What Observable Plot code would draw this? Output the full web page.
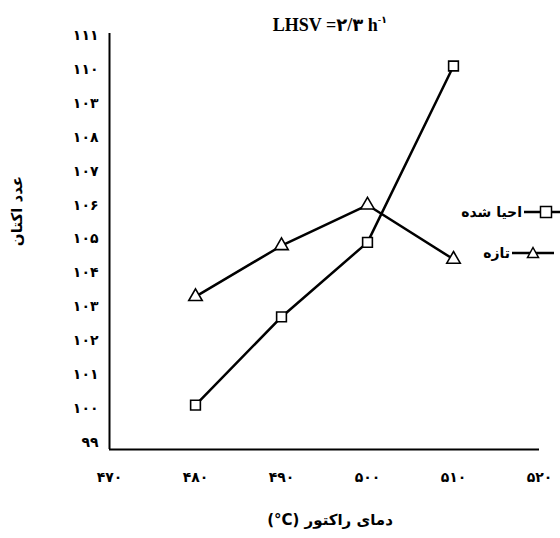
<!DOCTYPE html>
<html><head><meta charset="utf-8">
<script src="https://cdn.jsdelivr.net/npm/d3@7"></script>
<script src="https://cdn.jsdelivr.net/npm/@observablehq/plot@0.6"></script>
<style>
body{margin:0;background:#fff;}
#wrap{position:relative;width:560px;height:538px;font-family:"Liberation Serif","DejaVu Sans",serif;font-weight:bold;color:#000;overflow:hidden}
#wrap svg{position:absolute;left:0;top:0}
.ov{position:absolute;white-space:nowrap;line-height:1}
#title{left:330px;top:15px;transform:translateX(-50%);font-size:18px}
#title sup{font-size:10px;vertical-align:8px}
#ytitle{left:17px;top:211px;transform:translate(-50%,-50%) rotate(-90deg);font-family:"DejaVu Sans",sans-serif;font-size:15px;direction:rtl}
#xtitle{left:330px;top:520px;transform:translate(-50%,-50%);font-family:"DejaVu Sans",sans-serif;font-size:15px;direction:rtl}
.leg{position:absolute;display:flex;align-items:center;font-family:"DejaVu Sans",sans-serif;font-size:14px}
</style></head><body><div id="wrap"></div>
<script>
const temps = [480, 490, 500, 510];
const regenerated = [100.1, 102.7, 104.9, 110.1];
const fresh = [103.3, 104.8, 106.0, 104.4];
const seriesNames = ["احیا شده", "تازه"];
const xTicks = [470, 480, 490, 500, 510, 520];
const xTickLabels = ["۴۷۰", "۴۸۰", "۴۹۰", "۵۰۰", "۵۱۰", "۵۲۰"];
const yTicks = [99, 100, 101, 102, 103, 104, 105, 106, 107, 108, 109, 110, 111];
const yTickLabels = ["۹۹", "۱۰۰", "۱۰۱", "۱۰۲", "۱۰۳", "۱۰۴", "۱۰۵", "۱۰۶", "۱۰۷", "۱۰۸", "۱۰۳", "۱۱۰", "۱۱۱"];
const titleMain = "LHSV =۲/۳ h";
const titleSup = "-۱";
const yTitle = "عدد اکتان";
const xTitleText = "دمای راکتور";
const xTitleUnit = "(°C)";

const data = [
  ...temps.map((t, i) => ({t, v: regenerated[i], s: seriesNames[0]})),
  ...temps.map((t, i) => ({t, v: fresh[i], s: seriesNames[1]}))
];
const yMin = 98.79, yMax = 111.06;

const chart = Plot.plot({
  width: 560, height: 538,
  marginLeft: 109, marginRight: 21, marginTop: 33, marginBottom: 89,
  style: {fontFamily: "'DejaVu Sans', sans-serif", fontSize: "14px", fontWeight: "bold", background: "#fff"},
  x: {domain: [470, 520], ticks: xTicks, tickSize: 0, tickPadding: 23,
      tickFormat: d => xTickLabels[xTicks.indexOf(d)], label: null},
  y: {domain: [yMin, yMax], ticks: yTicks, tickSize: 0, tickPadding: 11,
      tickFormat: d => yTickLabels[yTicks.indexOf(d)], label: null},
  marks: [
    Plot.ruleX([470], {y1: yMin, y2: yMax, stroke: "#000", strokeWidth: 2}),
    Plot.ruleY([yMin], {x1: 470, x2: 520, stroke: "#000", strokeWidth: 2}),
    Plot.line(data, {x: "t", y: "v", z: "s", stroke: "#000", strokeWidth: 2.5}),
    Plot.dot(data.filter(d => d.s === seriesNames[0]), {x: "t", y: "v", symbol: "square", r: 5.5, fill: "#fff", stroke: "#000", strokeWidth: 1.6}),
    Plot.dot(data.filter(d => d.s === seriesNames[1]), {x: "t", y: "v", symbol: "triangle", r: 5, fill: "#fff", stroke: "#000", strokeWidth: 1.6})
  ]
});
const wrap = document.getElementById("wrap");
wrap.appendChild(chart);

function ov(id){ const d = document.createElement("div"); d.id = id; d.className = "ov"; wrap.appendChild(d); return d; }
const t = ov("title"); t.textContent = titleMain; const sp = document.createElement("sup"); sp.textContent = titleSup; t.appendChild(sp);
ov("ytitle").textContent = yTitle;
const xt = ov("xtitle");
xt.appendChild(document.createTextNode(xTitleText + " "));
const unit = document.createElement("bdi"); unit.dir = "ltr"; unit.textContent = xTitleUnit; xt.appendChild(unit);

function legendItem(name, sym, right, cy, lineW, symX){
  const d = document.createElement("div"); d.className = "leg";
  d.style.right = right + "px"; d.style.top = (cy - 9) + "px"; d.style.height = "18px";
  const sp = document.createElement("span"); sp.textContent = name; sp.style.marginRight = "2px";
  const svg = d3.create("svg").attr("width", lineW).attr("height", 18).style("position", "static");
  svg.append("line").attr("x1", 0).attr("x2", lineW).attr("y1", 9).attr("y2", 9).attr("stroke", "#000").attr("stroke-width", 2.5);
  if (sym === "square") svg.append("rect").attr("x", symX - 5.5).attr("y", 3.5).attr("width", 11).attr("height", 11).attr("fill", "#fff").attr("stroke", "#000").attr("stroke-width", 1.5);
  else svg.append("path").attr("d", `M${symX},3.5L${symX + 5.5},13.5L${symX - 5.5},13.5Z`).attr("fill", "#fff").attr("stroke", "#000").attr("stroke-width", 1.5);
  d.appendChild(sp); d.appendChild(svg.node()); wrap.appendChild(d);
}
legendItem(seriesNames[0], "square", 0, 212, 36, 22);
legendItem(seriesNames[1], "triangle", 6, 253, 42, 21);
</script></body></html>
